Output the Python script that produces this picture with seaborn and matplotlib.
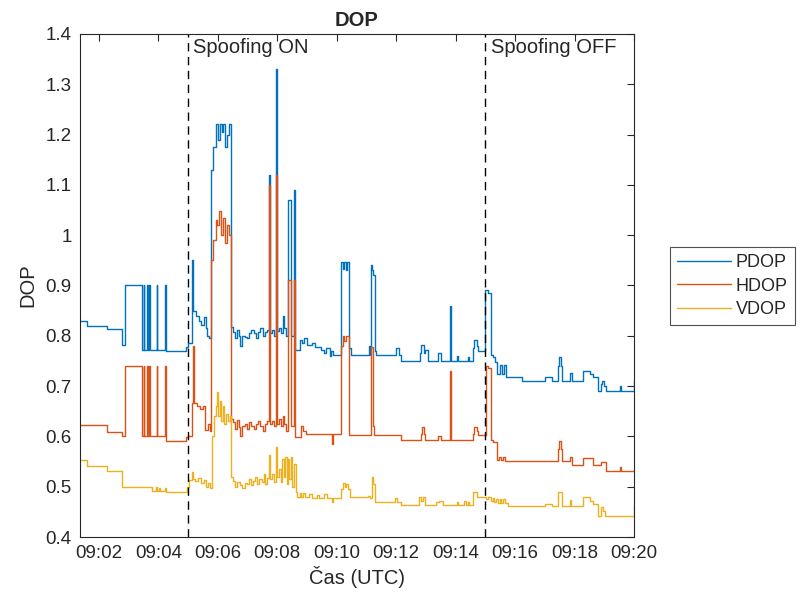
import pandas as pd
import matplotlib
matplotlib.use("Agg")
import matplotlib.pyplot as plt
import matplotlib.dates as mdates
from matplotlib.lines import Line2D
from matplotlib.ticker import FuncFormatter, MultipleLocator
import seaborn as sns

# Step breakpoints: seconds after 09:00:00 UTC; each value holds until the next breakpoint
pdop_t = [82, 96, 137, 167, 173, 207, 211, 212, 218, 219, 222, 223, 237, 238, 254, 255,
          296, 299, 309, 311, 316, 322, 327, 332, 336, 339, 343, 346, 351, 357, 361, 364,
          368, 371, 374, 378, 382, 386, 391, 395, 398, 402, 405, 408, 414, 419, 423, 428,
          433, 437, 441, 446, 451, 456, 460, 464, 466, 470, 474, 477, 479, 484, 488, 492,
          494, 498, 501, 507, 513, 516, 526, 530, 534, 541, 550, 556, 568, 575, 579, 586,
          589, 593, 609, 612, 614, 618, 620, 624, 628, 666, 668, 670, 672, 674, 677, 680,
          720, 726, 730, 768, 771, 776, 779, 784, 805, 811, 828, 830, 842, 845, 865, 867,
          875, 877, 883, 886, 900, 906, 911, 916, 920, 924, 929, 934, 938, 942, 973, 1020,
          1034, 1046, 1048, 1053, 1055, 1071, 1074, 1098, 1112, 1118, 1128, 1134, 1136, 1140,
          1143, 1172, 1174, 1199, 1200]
pdop_v = [0.830, 0.820, 0.813, 0.782, 0.900, 0.772, 0.900, 0.772, 0.900, 0.772, 0.900, 0.772,
          0.900, 0.772, 0.900, 0.770, 0.778, 0.786, 0.950, 0.850, 0.840, 0.830, 0.822, 0.838,
          0.815, 0.800, 0.795, 1.130, 1.175, 1.222, 1.190, 1.222, 1.205, 1.222, 1.175, 1.200,
          1.222, 0.818, 0.808, 0.795, 0.812, 0.800, 0.780, 0.800, 0.798, 0.795, 0.805, 0.812,
          0.805, 0.795, 0.808, 0.815, 0.800, 0.808, 0.812, 1.120, 0.805, 0.812, 0.800, 1.330,
          0.810, 0.815, 0.805, 0.840, 0.815, 0.800, 1.070, 0.800, 1.090, 0.772, 0.792, 0.785,
          0.795, 0.782, 0.785, 0.778, 0.772, 0.765, 0.775, 0.760, 0.770, 0.762, 0.947, 0.932,
          0.947, 0.930, 0.947, 0.775, 0.762, 0.780, 0.762, 0.941, 0.930, 0.920, 0.770, 0.762,
          0.775, 0.762, 0.749, 0.765, 0.782, 0.765, 0.772, 0.749, 0.765, 0.749, 0.859, 0.749,
          0.760, 0.749, 0.757, 0.749, 0.775, 0.792, 0.780, 0.770, 0.891, 0.886, 0.762, 0.758,
          0.748, 0.725, 0.742, 0.725, 0.742, 0.719, 0.711, 0.719, 0.711, 0.740, 0.758, 0.740,
          0.711, 0.726, 0.711, 0.731, 0.725, 0.719, 0.690, 0.705, 0.710, 0.700, 0.690, 0.700,
          0.690, 0.710, 0.710]

hdop_t = [82, 137, 167, 173, 207, 211, 212, 218, 219, 222, 223, 237, 238, 254, 255, 296,
          299, 308, 310, 312, 318, 325, 331, 335, 341, 345, 347, 351, 356, 359, 362, 366,
          370, 374, 378, 382, 386, 390, 394, 398, 402, 405, 408, 414, 419, 423, 428, 433,
          437, 441, 446, 451, 456, 460, 464, 466, 470, 474, 477, 479, 484, 488, 492, 494,
          498, 501, 507, 513, 516, 528, 532, 538, 590, 593, 609, 612, 615, 619, 624, 670,
          673, 676, 730, 770, 772, 776, 779, 805, 811, 828, 830, 875, 877, 883, 886, 901,
          906, 911, 916, 923, 928, 932, 936, 940, 1047, 1049, 1053, 1055, 1071, 1074, 1098,
          1118, 1134, 1143, 1172, 1174, 1200]
hdop_v = [0.623, 0.609, 0.601, 0.740, 0.600, 0.740, 0.600, 0.740, 0.600, 0.740, 0.600, 0.740,
          0.600, 0.740, 0.591, 0.598, 0.600, 0.666, 0.780, 0.666, 0.660, 0.655, 0.660, 0.613,
          0.625, 0.610, 0.950, 0.990, 1.030, 1.020, 1.048, 1.000, 1.035, 0.985, 1.020, 1.000,
          0.635, 0.628, 0.615, 0.632, 0.618, 0.600, 0.620, 0.625, 0.615, 0.628, 0.620, 0.615,
          0.625, 0.630, 0.620, 0.610, 0.625, 0.630, 1.100, 0.625, 0.630, 0.620, 1.120, 0.625,
          0.635, 0.620, 0.640, 0.625, 0.610, 0.910, 0.620, 0.910, 0.598, 0.620, 0.610, 0.605,
          0.585, 0.605, 0.780, 0.800, 0.790, 0.800, 0.603, 0.778, 0.620, 0.603, 0.593, 0.605,
          0.619, 0.605, 0.593, 0.600, 0.593, 0.731, 0.593, 0.605, 0.619, 0.610, 0.603, 0.740,
          0.735, 0.593, 0.588, 0.553, 0.560, 0.553, 0.560, 0.552, 0.575, 0.590, 0.575, 0.552,
          0.560, 0.543, 0.557, 0.543, 0.550, 0.532, 0.540, 0.532, 0.532]

vdop_t = [82, 96, 137, 167, 227, 236, 238, 241, 243, 254, 256, 297, 302, 308, 310, 315,
          320, 326, 332, 336, 341, 345, 348, 352, 356, 359, 361, 364, 367, 370, 373, 376,
          380, 384, 386, 390, 395, 399, 404, 409, 414, 419, 423, 427, 431, 436, 440, 444,
          449, 453, 456, 460, 464, 466, 470, 474, 477, 479, 484, 487, 490, 493, 496, 499,
          502, 504, 507, 510, 514, 517, 519, 525, 528, 533, 536, 545, 550, 560, 565, 575,
          580, 590, 592, 609, 612, 616, 618, 622, 626, 664, 668, 671, 674, 677, 718, 722,
          730, 766, 770, 775, 779, 800, 806, 815, 842, 845, 857, 860, 865, 867, 875, 883,
          902, 906, 911, 915, 918, 922, 925, 929, 932, 936, 940, 946, 1020, 1034, 1047, 1054,
          1071, 1073, 1098, 1112, 1118, 1128, 1134, 1138, 1142, 1199, 1200]
vdop_v = [0.553, 0.541, 0.532, 0.500, 0.492, 0.500, 0.492, 0.498, 0.492, 0.498, 0.490, 0.500,
          0.513, 0.530, 0.515, 0.512, 0.518, 0.508, 0.513, 0.500, 0.508, 0.498, 0.600, 0.640,
          0.660, 0.689, 0.640, 0.670, 0.630, 0.660, 0.625, 0.645, 0.630, 0.640, 0.520, 0.512,
          0.500, 0.510, 0.503, 0.498, 0.508, 0.505, 0.515, 0.503, 0.512, 0.520, 0.505, 0.515,
          0.510, 0.525, 0.505, 0.518, 0.563, 0.515, 0.525, 0.510, 0.579, 0.520, 0.535, 0.510,
          0.556, 0.520, 0.560, 0.505, 0.555, 0.515, 0.560, 0.500, 0.545, 0.490, 0.480, 0.488,
          0.480, 0.488, 0.480, 0.485, 0.478, 0.484, 0.478, 0.485, 0.477, 0.470, 0.477, 0.495,
          0.507, 0.500, 0.505, 0.495, 0.480, 0.482, 0.478, 0.520, 0.505, 0.470, 0.478, 0.470,
          0.464, 0.480, 0.472, 0.480, 0.464, 0.470, 0.472, 0.464, 0.470, 0.464, 0.472, 0.464,
          0.470, 0.464, 0.490, 0.480, 0.475, 0.480, 0.472, 0.478, 0.470, 0.476, 0.468, 0.476,
          0.468, 0.476, 0.468, 0.462, 0.466, 0.462, 0.490, 0.462, 0.474, 0.462, 0.480, 0.472,
          0.466, 0.442, 0.460, 0.452, 0.442, 0.462, 0.462]

series_names = ["PDOP", "HDOP", "VDOP"]
series_colors = ["#0072BD", "#D95319", "#EDB120"]
spoof_on = "09:05:00"
spoof_off = "09:15:00"
x_start = "09:01:22"
x_end = "09:20:00"

day = "2024-01-01 "
base = pd.Timestamp(day + "09:00:00")


def to_frame(name, secs, vals):
    return pd.DataFrame({
        "time": base + pd.to_timedelta(secs, unit="s"),
        "DOP": vals,
        "series": name,
    })


df = pd.concat([
    to_frame("PDOP", pdop_t, pdop_v),
    to_frame("HDOP", hdop_t, hdop_v),
    to_frame("VDOP", vdop_t, vdop_v),
], ignore_index=True)

sns.set_theme(style="white")
plt.rcParams["font.family"] = ["Liberation Sans", "DejaVu Sans"]
ink = "#262626"
plt.rcParams.update({
    "axes.edgecolor": ink,
    "xtick.color": ink,
    "ytick.color": ink,
    "text.color": ink,
    "axes.labelcolor": ink,
})

fig = plt.figure(figsize=(8.0, 5.99), dpi=100)
ax = fig.add_axes([80 / 800, 1 - 537 / 599, 554 / 800, 503 / 599])

palette = dict(zip(series_names, series_colors))
sns.lineplot(data=df, x="time", y="DOP", hue="series", hue_order=series_names,
             palette=palette, estimator=None, sort=False, drawstyle="steps-post",
             linewidth=1.0, legend=False, ax=ax)

# spoofing start/stop markers
for t, label in [(spoof_on, "Spoofing ON"), (spoof_off, "Spoofing OFF")]:
    ts = pd.Timestamp(day + t)
    ax.axvline(ts, color="black", linestyle=(0, (6, 4)), linewidth=1.0)
    ax.text(ts + pd.Timedelta(seconds=11), 1.374, label, fontsize=14.5,
            va="center", ha="left", color=ink)

ax.set_xlim(pd.Timestamp(day + x_start), pd.Timestamp(day + x_end))
ax.set_ylim(0.4, 1.4)
ax.yaxis.set_major_locator(MultipleLocator(0.1))
ax.yaxis.set_major_formatter(FuncFormatter(
    lambda v, p: f"{int(round(v))}" if abs(v - round(v)) < 1e-9 else f"{v:.1f}"))
ax.xaxis.set_major_locator(mdates.MinuteLocator(byminute=range(0, 60, 2)))
ax.xaxis.set_major_formatter(mdates.DateFormatter("%H:%M"))

ax.tick_params(axis="both", direction="in", length=5, width=0.8, labelsize=13.5,
               top=True, right=True, pad=6)
for s in ax.spines.values():
    s.set_linewidth(0.8)
    s.set_color(ink)

ax.set_title("DOP", fontsize=14.5, fontweight="bold", pad=6)
ax.set_xlabel("Čas (UTC)", fontsize=14.5, labelpad=3)
ax.set_ylabel("DOP", fontsize=14.5, labelpad=6)

handles = [Line2D([0], [0], color=c, lw=1.0) for c in series_colors]
leg = ax.legend(handles, series_names, loc="upper left", bbox_to_anchor=(1.065, 0.5765),
                borderaxespad=0, frameon=True, fancybox=False, fontsize=13,
                handlelength=3.0, handletextpad=0.25, labelspacing=0.35,
                borderpad=0.4)
leg.get_frame().set_edgecolor(ink)
leg.get_frame().set_linewidth(0.8)

fig.savefig("out.png", dpi=100)
